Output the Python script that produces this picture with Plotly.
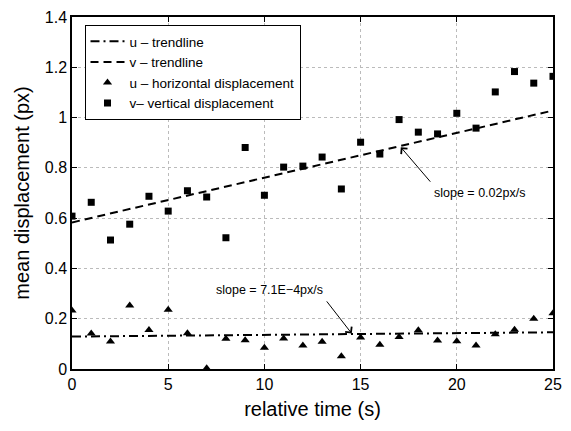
import plotly.graph_objects as go

t = list(range(26))
u_disp = [0.233, 0.141, 0.109, 0.253, 0.155, 0.236, 0.142, 0.003, 0.120, 0.114, 0.085,
          0.121, 0.093, 0.108, 0.051, 0.125, 0.096, 0.127, 0.154, 0.113, 0.110,
          0.093, 0.138, 0.156, 0.200, 0.222]
v_disp = [0.608, 0.663, 0.513, 0.576, 0.687, 0.628, 0.709, 0.684, 0.522, 0.881, 0.691,
          0.803, 0.807, 0.843, 0.716, 0.902, 0.855, 0.992, 0.942, 0.935, 1.017,
          0.958, 1.102, 1.183, 1.137, 1.164]
trend_t = [0, 25]
u_trend = [0.129, 0.146]
v_trend = [0.583, 1.028]

x_ticks = [0, 5, 10, 15, 20, 25]
y_ticks = [0, 0.2, 0.4, 0.6, 0.8, 1, 1.2, 1.4]
y_tick_labels = ["0", "0.2", "0.4", "0.6", "0.8", "1", "1.2", "1.4"]

FONT = "Liberation Sans, Arial, Helvetica, sans-serif"

fig = go.Figure()
fig.add_trace(go.Scatter(x=trend_t, y=u_trend, mode="lines", name="u \u2013 trendline",
                         line=dict(color="black", width=2, dash="9px,4px,2px,4px")))
fig.add_trace(go.Scatter(x=trend_t, y=v_trend, mode="lines", name="v \u2013 trendline",
                         line=dict(color="black", width=2, dash="8px,5px")))
fig.add_trace(go.Scatter(x=t, y=u_disp, mode="markers", name="u \u2013 horizontal displacement",
                         marker=dict(symbol="triangle-up", size=8, color="black")))
fig.add_trace(go.Scatter(x=t, y=v_disp, mode="markers", name="v\u2013 vertical displacement",
                         marker=dict(symbol="square", size=7, color="black")))

fig.add_annotation(x=17.09, y=0.882, ax=18.69, ay=0.739, xref="x", yref="y", axref="x", ayref="y",
                   showarrow=True, arrowhead=4, arrowsize=1.6, arrowwidth=1, arrowcolor="black", text="")
fig.add_annotation(x=21.16, y=0.699, xref="x", yref="y", text="slope = 0.02px/s", showarrow=False,
                   font=dict(size=12.5, color="black", family=FONT))
fig.add_annotation(x=14.54, y=0.141, ax=13.18, ay=0.275, xref="x", yref="y", axref="x", ayref="y",
                   showarrow=True, arrowhead=4, arrowsize=1.6, arrowwidth=1, arrowcolor="black", text="")
fig.add_annotation(x=10.27, y=0.315, xref="x", yref="y", text="slope = 7.1E\u22124px/s", showarrow=False,
                   font=dict(size=12.5, color="black", family=FONT))

axis_common = dict(showline=True, linecolor="black", linewidth=1.5, mirror="ticks", ticks="inside",
                   ticklen=5, tickcolor="black", showgrid=True, gridcolor="#bbbbbb", griddash="dot",
                   gridwidth=1, zeroline=False, tickfont=dict(size=16, color="black", family=FONT))
fig.update_xaxes(range=[0, 25], tickvals=x_ticks, title=dict(text="relative time (s)",
                 font=dict(size=20, color="black", family=FONT), standoff=10), **axis_common)
fig.update_yaxes(range=[0, 1.4], tickvals=y_ticks, ticktext=y_tick_labels,
                 title=dict(text="mean displacement (px)", font=dict(size=20, color="black", family=FONT),
                            standoff=10), **axis_common)

fig.update_layout(
    width=571, height=431,
    margin=dict(l=72, r=9, t=16, b=62),
    paper_bgcolor="white", plot_bgcolor="white",
    font=dict(family=FONT, color="black"),
    legend=dict(x=0.026, y=0.977, xanchor="left", yanchor="top", bgcolor="white",
                bordercolor="black", borderwidth=1, font=dict(size=13.5, family=FONT, color="black"),
                itemwidth=34, tracegroupgap=0),
    showlegend=True,
)

fig.write_html("out.html")
